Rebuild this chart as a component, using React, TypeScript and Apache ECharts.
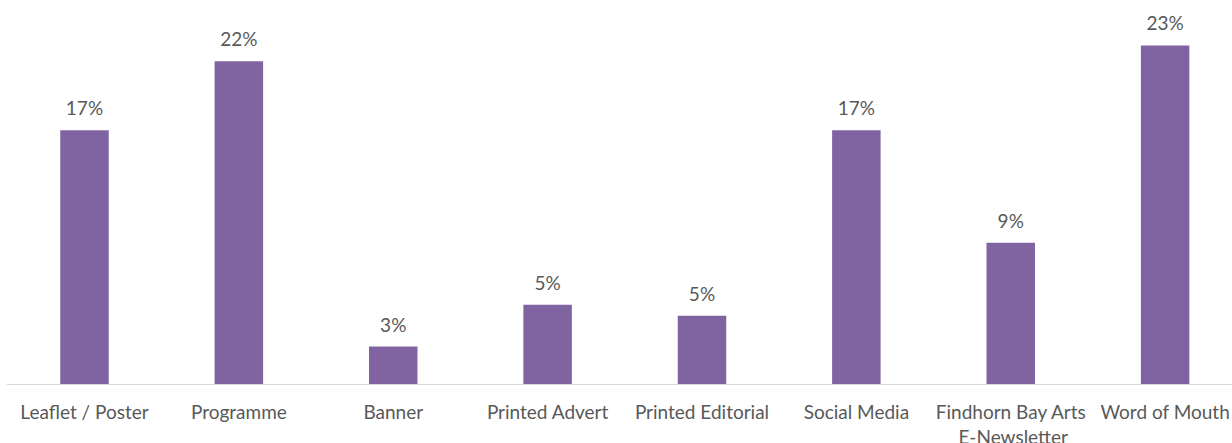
import React, { useEffect, useRef } from "react";
import * as echarts from "echarts";

const categories = [
  "Leaflet / Poster",
  "Programme",
  "Banner",
  "Printed Advert",
  "Printed Editorial",
  "Social Media",
  "Findhorn Bay Arts E-Newsletter",
  "Word of Mouth",
];
const values = [16.96, 21.58, 2.5, 5.3, 4.57, 16.96, 9.45, 22.63];

const FONT = "Lato";

export default function App() {
  const ref = useRef<HTMLDivElement>(null);
  useEffect(() => {
    document.body.style.margin = "0";
    const chart = echarts.init(ref.current!, null, { renderer: "svg" });
    chart.setOption({
      animation: false,
      backgroundColor: "#ffffff",
      grid: {
        left: 7.3,
        top: 10,
        width: 1235,
        height: 374,
        containLabel: false,
        outerBoundsMode: "none",
      },
      xAxis: {
        type: "category",
        data: categories,
        axisLine: { show: true, lineStyle: { color: "#D9D9D9", width: 1 } },
        axisTick: { show: false },
        axisLabel: {
          interval: 0,
          color: "#595959",
          fontFamily: FONT,
          fontSize: 19,
          lineHeight: 25,
          margin: 14.5,
          width: 156,
          overflow: "break",
        },
      },
      yAxis: {
        type: "value",
        min: 0,
        max: 25,
        show: false,
        splitLine: { show: false },
      },
      series: [
        {
          type: "bar",
          data: values,
          barWidth: 48.5,
          itemStyle: { color: "#8064A2" },
          label: {
            show: true,
            position: "top",
            distance: 13,
            color: "#595959",
            fontFamily: FONT,
            fontSize: 19,
            formatter: (p: any) => Math.round(p.value) + "%",
          },
        },
      ],
    });
    return () => chart.dispose();
  }, []);
  return (
    <div style={{ width: 1232, height: 443, position: "absolute", left: 0, top: 0, overflow: "hidden", background: "#fff" }}>
      <div ref={ref} style={{ width: 1260, height: 443 }} />
    </div>
  );
}
